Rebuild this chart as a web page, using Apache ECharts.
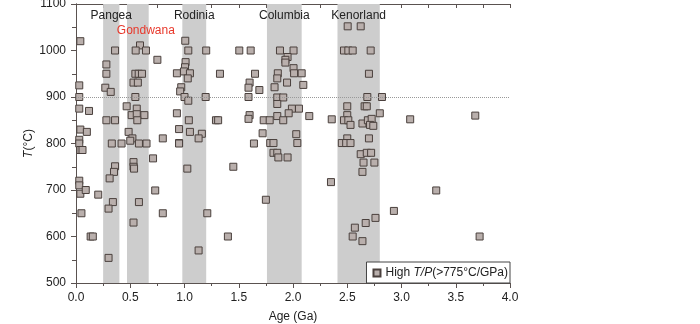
<!DOCTYPE html>
<html>
<head>
<meta charset="utf-8">
<script src="https://cdn.jsdelivr.net/npm/echarts@6/dist/echarts.min.js"></script>
<style>
  html, body { margin: 0; padding: 0; background: #fff; }
  #chart { width: 700px; height: 324px; }
</style>
</head>
<body>
<div id="chart"></div>
<script>
// age (Ga) and temperature (°C) of each high T/P sample
var ages = [
    0.04, 0.03, 0.03, 0.03, 0.12, 0.04, 0.10, 0.03, 0.03, 0.04, 0.06, 0.03, 0.03, 0.04, 0.09, 0.05, 0.135, 0.155, 0.205,
    0.28, 0.28, 0.27, 0.32, 0.36, 0.28, 0.36, 0.33, 0.42, 0.36, 0.35, 0.31, 0.34, 0.30, 0.30,
    0.59, 0.55, 0.645, 0.547, 0.578, 0.608, 0.53, 0.57, 0.547, 0.467, 0.56, 0.513, 0.56, 0.63, 0.565, 0.485, 0.52, 0.58, 0.65, 0.50, 0.53, 0.53, 0.535, 0.58, 0.53,
    0.71, 0.73, 0.80, 0.80, 0.95, 0.75,
    1.007, 1.035, 1.20, 1.01, 1.005, 0.93, 0.995, 1.05, 1.03, 0.97, 0.96, 1.0, 1.035, 1.195, 0.93, 1.04, 1.29, 1.31, 0.95, 1.05, 1.16, 1.13, 0.95, 1.026, 1.21, 1.13,
    1.327, 1.505, 1.61, 1.65, 1.60, 1.59, 1.69, 1.59, 1.60, 1.59, 1.72, 1.64, 1.45, 1.40, 1.75,
    1.88, 2.005, 1.95, 1.93, 1.93, 2.005, 1.86, 2.01, 2.08, 1.855, 1.945, 2.095, 1.83, 1.855, 1.91, 1.855, 1.99, 2.055, 1.96, 1.855, 2.15, 1.73, 1.785, 1.91, 2.03, 1.79, 1.82, 2.04, 1.82, 1.855, 1.865, 1.95,
    2.357, 2.35,
    2.504, 2.624, 2.47, 2.51, 2.55, 2.716, 2.70, 2.685, 2.82, 2.50, 2.66, 2.68, 2.50, 2.80, 2.47, 2.51, 2.53, 2.64, 2.69, 2.725, 2.71, 2.74, 2.50, 2.70, 2.45, 2.49, 2.53,
    2.624, 2.68, 2.72, 2.65, 2.75, 2.64, 2.93, 2.76, 2.67, 2.57, 2.55, 2.64,
    3.08, 3.68, 3.32, 3.72
];
var temps = [
    1020, 925, 900, 875, 870, 830, 825, 808, 800, 786, 786, 720, 710, 692, 700, 650, 600, 600, 690,
    970, 950, 920, 911, 1000, 850, 850, 800, 800, 751, 739, 725, 674, 660, 554,
    1011, 1000, 1000, 950, 950, 950, 931, 931, 900, 880, 875, 861, 863, 861, 850, 825, 811, 800, 800, 806, 760, 750, 746, 674, 630,
    768, 699, 650, 811, 801, 980,
    1021, 1000, 1000, 975, 964, 951, 955, 951, 940, 921, 912, 900, 892, 900, 865, 850, 850, 850, 831, 825, 821, 811, 800, 746, 650, 570,
    950, 1000, 1000, 950, 931, 920, 915, 900, 861, 853, 822, 800, 750, 600, 679,
    1000, 1000, 986, 980, 974, 962, 951, 951, 951, 940, 931, 926, 921, 899, 899, 885, 875, 875, 865, 859, 859, 850, 850, 850, 820, 801, 801, 801, 780, 780, 770, 770,
    852, 717,
    1052, 1052, 1000, 1000, 1000, 1000, 950, 900, 900, 880, 880, 880, 861, 865, 850, 850, 840, 843, 850, 853, 840, 838, 811, 811, 801, 801, 801,
    777, 780, 780, 759, 759, 739, 655, 640, 629, 619, 600, 590,
    852, 860, 699, 600
];

// supercontinent intervals (Ga)
var bandNames = ['Pangea', 'Gondwana', 'Rodinia', 'Columbia', 'Kenorland'];
var bandStart = [0.25, 0.47, 0.98, 1.76, 2.41];
var bandEnd = [0.40, 0.67, 1.20, 2.08, 2.80];

var refTemp = 900;
var seriesName = 'High T/P(>775°C/GPa)';

var points = ages.map(function (a, i) { return [a, temps[i]]; });

var bands = bandNames.map(function (n, i) {
    var lab = {};
    if (n === 'Gondwana') {
        lab = { color: '#e8382b', offset: [8, 15] };
    }
    return [{ xAxis: bandStart[i], name: n, label: lab }, { xAxis: bandEnd[i] }];
});

var font = 'Arial, "Liberation Sans", sans-serif';
var axisCol = '#5a5250';

var chart = echarts.init(document.getElementById('chart'));

var option = {
    animation: false,
    textStyle: { fontFamily: font },
    grid: { left: 76, right: 190, top: 4, bottom: 41, outerBoundsMode: 'none', containLabel: false },
    xAxis: [
        {
            type: 'value', min: 0, max: 4, interval: 0.5,
            name: 'Age (Ga)', nameLocation: 'middle', nameGap: 28,
            nameTextStyle: { fontSize: 12, color: '#222', fontFamily: font },
            axisLine: { lineStyle: { color: axisCol } },
            axisTick: { length: 5, lineStyle: { color: axisCol } },
            minorTick: { show: true, splitNumber: 2, length: 3, lineStyle: { color: axisCol } },
            splitLine: { show: false },
            axisLabel: { fontSize: 12, color: '#222', margin: 9, formatter: function (v) { return v.toFixed(1); } }
        },
        {
            type: 'value', position: 'top', min: 0, max: 4, interval: 0.25,
            axisLine: { show: true, lineStyle: { color: axisCol } },
            axisTick: { inside: true, length: 4, lineStyle: { color: axisCol } },
            axisLabel: { show: false },
            splitLine: { show: false }
        }
    ],
    yAxis: [
        {
            type: 'value', min: 500, max: 1100, interval: 100,
            name: '{i|T}(°C)', nameLocation: 'middle', nameGap: 41, nameMoveOverlap: false,
            nameTextStyle: {
                fontSize: 12, color: '#222', fontFamily: font,
                rich: { i: { fontStyle: 'italic', fontSize: 12, color: '#222', fontFamily: font } }
            },
            axisLine: { show: true, lineStyle: { color: axisCol } },
            axisTick: { show: true, length: 5, lineStyle: { color: axisCol } },
            minorTick: { show: true, splitNumber: 2, length: 3, lineStyle: { color: axisCol } },
            splitLine: { show: false },
            axisLabel: { fontSize: 12, color: '#222', margin: 10, formatter: function (v) { return String(v); } }
        },
        {
            type: 'value', position: 'right', min: 500, max: 1100, interval: 50,
            axisLine: { show: true, lineStyle: { color: axisCol } },
            axisTick: { show: true, inside: true, length: 4, lineStyle: { color: axisCol } },
            axisLabel: { show: false },
            splitLine: { show: false }
        }
    ],
    legend: {
        right: 190, bottom: 41,
        orient: 'vertical',
        backgroundColor: '#fff',
        borderColor: '#444', borderWidth: 1, borderRadius: 0,
        padding: [5, 2, 4, 6],
        itemWidth: 7, itemHeight: 7, itemGap: 0,
        data: [seriesName],
        formatter: function () { return 'High {i|T/P}(>775°C/GPa)'; },
        textStyle: {
            fontSize: 12, color: '#222', fontFamily: font,
            rich: {
                i: { fontStyle: 'italic', fontSize: 12, color: '#222', fontFamily: font }
            }
        }
    },
    series: [
        {
            name: seriesName,
            type: 'scatter',
            symbol: 'rect',
            symbolSize: 7,
            itemStyle: { color: '#b9afac', borderColor: '#4a403d', borderWidth: 1, opacity: 1 },
            data: points,
            markArea: {
                silent: true,
                itemStyle: { color: '#cdcdcd' },
                label: {
                    show: true, position: 'insideTop', distance: 6,
                    fontSize: 12, color: '#222', fontFamily: font
                },
                data: bands
            },
            markLine: {
                silent: true,
                symbol: 'none',
                label: { show: false },
                lineStyle: { type: 'dotted', color: '#999', width: 1 },
                data: [{ yAxis: refTemp }]
            }
        }
    ]
};

chart.setOption(option);
</script>
</body>
</html>
